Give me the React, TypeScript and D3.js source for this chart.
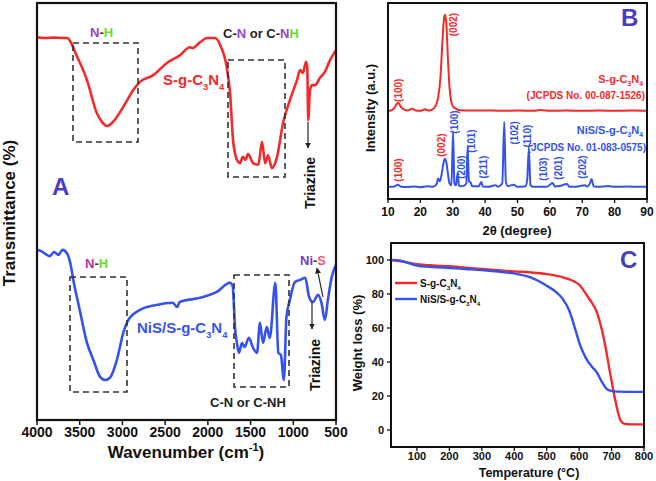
import React from 'react';
import * as d3 from 'd3';

// ---------- Panel A: FTIR ----------
const ftirTicks = [4000, 3500, 3000, 2500, 2000, 1500, 1000, 500];
const ftirRedWn = [4000, 3900, 3800, 3700, 3650, 3530, 3415, 3300, 3240, 3180, 3110, 2990, 2875, 2795, 2640, 2480, 2325, 2210, 2180, 2090, 2010, 1915, 1855, 1780, 1740, 1705, 1660, 1625, 1590, 1560, 1530, 1470, 1410, 1365, 1330, 1295, 1250, 1190, 1120, 1040, 957, 920, 890, 850, 836, 825, 805, 780, 745, 690, 630, 570, 500];
const ftirRedT = [91.8, 91.6, 91.7, 91.6, 91.6, 87.1, 81.5, 73.6, 71.5, 70.5, 71.5, 75.1, 79.1, 81.1, 82.7, 85.6, 87.5, 89.4, 89.2, 90.6, 91.6, 91.6, 89.9, 84.7, 78.4, 67.1, 62.4, 61.6, 63.1, 62.4, 63.8, 61.6, 61.2, 66.7, 61.6, 63.5, 60.4, 63.1, 71.2, 76.7, 81.5, 83.9, 83.2, 85.9, 84.5, 71.9, 79.1, 80.3, 80.3, 82.0, 83.5, 86.3, 88.7];
const ftirBlueWn = [4000, 3950, 3900, 3850, 3800, 3750, 3700, 3650, 3610, 3575, 3500, 3415, 3340, 3260, 3200, 3140, 3065, 2990, 2930, 2795, 2600, 2410, 2360, 2330, 2090, 1895, 1740, 1710, 1680, 1660, 1635, 1600, 1570, 1520, 1470, 1425, 1390, 1355, 1310, 1275, 1210, 1175, 1145, 1110, 1080, 1040, 980, 920, 860, 815, 770, 710, 670, 630, 595, 550, 500];
const ftirBlueT = [40.8, 40.5, 39.8, 39.3, 40.3, 39.6, 40.8, 40.0, 37.6, 33.6, 26.4, 18.5, 14.4, 10.3, 9.6, 10.3, 14.4, 20.9, 24.0, 26.4, 27.6, 28.1, 27.1, 28.3, 29.3, 30.7, 32.9, 32.1, 21.6, 18.5, 16.1, 18.5, 17.5, 19.7, 17.3, 16.1, 23.3, 18.5, 22.3, 19.7, 32.9, 16.1, 15.6, 9.6, 24.7, 28.8, 33.1, 33.6, 34.1, 29.5, 28.3, 30.0, 28.1, 24.0, 28.8, 34.3, 37.2];

// ---------- Panel B: XRD ----------
const xrdTicks = [10, 20, 30, 40, 50, 60, 70, 80, 90];
const xrdRed2t = [10, 11, 12, 12.5, 13, 13.5, 14, 15, 16, 17.5, 18.5, 20, 21.5, 22.5, 23.5, 24.5, 25.5, 26.2, 26.8, 27.3, 27.6, 28, 28.5, 29, 29.5, 30, 31, 32, 35, 40, 45, 50, 55, 57, 60, 65, 70, 75, 80, 85, 90];
const xrdRedI = [44.9, 45.2, 46.5, 48, 49, 48.5, 47, 45.6, 45.2, 46, 45.2, 45, 45.8, 45.1, 45.5, 47, 52, 62, 80, 92, 94, 90, 72, 57, 50, 47.5, 46, 45.3, 45.1, 45.2, 45, 45.1, 45, 45.4, 45, 45.1, 45, 45.1, 45, 45.1, 45];
const xrdBlue2t = [10, 12, 13, 14, 16, 18, 20, 22, 24, 25, 25.5, 26, 26.5, 27, 27.5, 28, 28.5, 29, 29.6, 30.1, 30.5, 31, 31.5, 31.9, 32.5, 33.5, 34.2, 34.6, 35, 35.5, 36, 38, 38.8, 39.3, 41, 43.2, 44, 45.3, 45.9, 46.4, 47, 48.8, 50, 52.5, 53, 53.5, 54, 55, 57, 59, 60.9, 61.5, 63, 65.3, 66, 68, 70.8, 71.5, 72.4, 72.9, 73.5, 75, 78, 80, 84, 87, 90];
const xrdBlueI = [6.2, 6.4, 7.3, 6.3, 6.1, 6.4, 6.0, 6.5, 6.3, 7.5, 10.5, 9, 12, 17, 20.5, 19, 13, 8, 7, 34.7, 8, 7, 13.3, 7, 6.5, 6.8, 8, 27, 9, 8.5, 6.5, 6.5, 8.7, 6.4, 6.2, 7, 6.3, 8, 39.3, 9, 6.6, 7.3, 6.2, 6.5, 10, 25.5, 7, 6.2, 6.3, 6.2, 8.2, 6.4, 6.6, 7.7, 6.3, 6.2, 7, 6.4, 8, 10.2, 6.5, 6.2, 6.6, 6.2, 6.4, 6.2, 6.3];
// peak labels
const xrdLabelText = ['(100)', '(002)', '(100)', '(002)', '(100)', '(200)', '(101)', '(211)', '(102)', '(110)', '(103)', '(201)', '(202)'];
const xrdLabel2t = [13.1, 30.1, 13.1, 26.3, 30.4, 32.5, 35.6, 39.3, 48.8, 52.8, 57.9, 62.6, 69.9];
const xrdLabelI = [55.5, 89, 14.8, 27.5, 39.3, 16.3, 29.6, 16.3, 33.7, 32.1, 15.3, 15.8, 16.3];
const xrdLabelRed = [true, true, true, true, false, false, false, false, false, false, false, false, false];

// ---------- Panel C: TGA ----------
const tgaTicksX = [100, 200, 300, 400, 500, 600, 700, 800];
const tgaTicksY = [0, 20, 40, 60, 80, 100];
const tgaRedT = [20, 50, 100, 150, 200, 250, 300, 350, 400, 450, 500, 550, 600, 614, 630, 655, 676, 696, 712, 728, 740, 760, 800];
const tgaRedW = [100, 99.3, 97.6, 96.8, 96.3, 95.5, 94.7, 94.0, 93.3, 92.7, 91.7, 89.8, 85.5, 82.0, 77.5, 69.0, 54.0, 33.0, 17.0, 5.5, 3.6, 3.3, 3.3];
const tgaBlueT = [20, 40, 60, 100, 150, 200, 250, 300, 350, 400, 450, 500, 530, 550, 570, 590, 600, 620, 640, 655, 671, 686, 700, 720, 800];
const tgaBlueW = [100, 99.9, 99.0, 96.7, 95.8, 95.3, 94.7, 94.1, 93.2, 92.1, 89.8, 84.9, 81.0, 77.0, 70.0, 58.0, 51.5, 42.6, 37.1, 33.8, 28.0, 24.0, 23.0, 22.6, 22.4];

const RED = '#f42a2a';
const BLUE = '#3552ee';
const LETTER = '#4a3bc9';
const PURPLE = '#9a45c8';
const GREEN = '#66dd2a';
const FONT = '"Liberation Sans", Arial, sans-serif';

function Formula({ parts, x, y, fill, size, anchor = 'start' }: any) {
  const out: any[] = [];
  parts.forEach((p: [string, boolean], i: number) => {
    const prevSub = i > 0 && parts[i - 1][1];
    const dy = p[1] ? size * 0.3 : prevSub ? -size * 0.3 : 0;
    out.push(
      <tspan key={i} dy={dy} fontSize={p[1] ? size * 0.62 : size}>{p[0]}</tspan>
    );
  });
  return (
    <text x={x} y={y} fill={fill} fontSize={size} fontWeight="bold" textAnchor={anchor} fontFamily={FONT}>{out}</text>
  );
}

const SGCN: [string, boolean][] = [['S-g-C', false], ['3', true], ['N', false], ['4', true]];
const NISGCN: [string, boolean][] = [['NiS/S-g-C', false], ['3', true], ['N', false], ['4', true]];

export default function App() {
  // Panel A
  const xA = d3.scaleLinear().domain([4000, 500]).range([37, 336]);
  const yA = d3.scaleLinear().domain([0, 100]).range([420, 3]);
  const lineA = d3.line<number>().curve(d3.curveMonotoneX);
  const redA = lineA(ftirRedWn.map((w, i) => [xA(w), yA(ftirRedT[i])]) as any);
  const blueA = lineA(ftirBlueWn.map((w, i) => [xA(w), yA(ftirBlueT[i])]) as any);

  // Panel B
  const xB = d3.scaleLinear().domain([10, 90]).range([388, 647]);
  const yB = d3.scaleLinear().domain([0, 100]).range([199, 3]);
  const lineB = d3.line<number>().curve(d3.curveMonotoneX);
  const redB = lineB(xrdRed2t.map((t, i) => [xB(t), yB(xrdRedI[i])]) as any);
  const blueB = lineB(xrdBlue2t.map((t, i) => [xB(t), yB(xrdBlueI[i])]) as any);

  // Panel C
  const xC = d3.scaleLinear().domain([20, 800]).range([391, 644]);
  const yC = d3.scaleLinear().domain([-10, 110]).range([447, 243]);
  const lineC = d3.line<number>().curve(d3.curveMonotoneX);
  const redC = lineC(tgaRedT.map((t, i) => [xC(t), yC(tgaRedW[i])]) as any);
  const blueC = lineC(tgaBlueT.map((t, i) => [xC(t), yC(tgaBlueW[i])]) as any);

  const dash = { fill: 'none', stroke: '#333', strokeWidth: 1.6, strokeDasharray: '6,4' };

  return (
    <svg width={656} height={481} style={{ position: 'absolute', left: 0, top: 0, background: '#fff' }} fontFamily={FONT}>
      <defs>
        <marker id="arr" viewBox="0 0 10 10" refX="9" refY="5" markerWidth="5" markerHeight="5" orient="auto">
          <path d="M0,0 L10,5 L0,10 z" fill="#222" />
        </marker>
      </defs>
      <rect x={0} y={0} width={656} height={481} fill="#fff" />

      {/* ===== Panel A ===== */}
      <path d={redA || ''} fill="none" stroke={RED} strokeWidth={2.6} strokeLinejoin="round" />
      <path d={blueA || ''} fill="none" stroke={BLUE} strokeWidth={2.6} strokeLinejoin="round" />
      <rect x={37} y={3} width={299} height={417} fill="none" stroke="#111" strokeWidth={2.2} />
      {ftirTicks.map((t) => (
        <g key={t}>
          <line x1={xA(t)} x2={xA(t)} y1={420} y2={425} stroke="#111" strokeWidth={1.5} />
          <text x={xA(t)} y={437} textAnchor="middle" fontSize={14} fontWeight="bold" fill="#111">{t}</text>
        </g>
      ))}
      <text x={186} y={458} textAnchor="middle" fontSize={17} fontWeight="bold" fill="#111">
        Wavenumber (cm<tspan dy={-7} fontSize={11}>-1</tspan><tspan dy={7}>)</tspan>
      </text>
      <text transform="translate(15,213) rotate(-90)" textAnchor="middle" fontSize={17} fontWeight="bold" fill="#111">Transmittance (%)</text>
      <text x={52} y={195} fontSize={24} fontWeight="bold" fill={LETTER}>A</text>

      {/* top labels */}
      <rect x={73} y={43} width={65} height={99} {...dash} />
      <rect x={228} y={60} width={57} height={117} {...dash} />
      <text x={90} y={37} fontSize={13} fontWeight="bold">
        <tspan fill={PURPLE}>N</tspan><tspan fill="#333">-</tspan><tspan fill={GREEN}>H</tspan>
      </text>
      <text x={223} y={38} fontSize={13} fontWeight="bold" fill="#222">
        C-<tspan fill={PURPLE}>N</tspan> or C-<tspan fill={PURPLE}>N</tspan><tspan fill={GREEN}>H</tspan>
      </text>
      <Formula parts={SGCN} x={163} y={85} fill={RED} size={15} />
      <line x1={308} y1={122} x2={308} y2={148} stroke="#222" strokeWidth={1.2} markerEnd="url(#arr)" />
      <text transform="translate(315,183) rotate(-90)" textAnchor="middle" fontSize={14} fontWeight="bold" fill="#111">Triazine</text>

      {/* bottom labels */}
      <rect x={70} y={277} width={57} height={115} {...dash} />
      <rect x={234} y={275} width={55} height={112} {...dash} />
      <text x={85} y={268} fontSize={13} fontWeight="bold">
        <tspan fill="#b0399c">N</tspan><tspan fill="#333">-</tspan><tspan fill={GREEN}>H</tspan>
      </text>
      <text x={210} y={407} fontSize={13} fontWeight="bold" fill="#222">C-N or C-NH</text>
      <Formula parts={NISGCN} x={137} y={333} fill={BLUE} size={15} />
      <text x={300} y={265} fontSize={13} fontWeight="bold">
        <tspan fill="#7040c8">Ni</tspan><tspan fill="#333">-</tspan><tspan fill="#ff5577">S</tspan>
      </text>
      <line x1={323} y1={297} x2={317} y2={268} stroke="#222" strokeWidth={1.2} markerEnd="url(#arr)" />
      <line x1={312} y1={302} x2={312} y2={329} stroke="#222" strokeWidth={1.2} markerEnd="url(#arr)" />
      <text transform="translate(320,365) rotate(-90)" textAnchor="middle" fontSize={14} fontWeight="bold" fill="#111">Triazine</text>

      {/* ===== Panel B ===== */}
      <path d={redB || ''} fill="none" stroke={RED} strokeWidth={2} strokeLinejoin="round" />
      <path d={blueB || ''} fill="none" stroke={BLUE} strokeWidth={2} strokeLinejoin="round" />
      <rect x={388} y={3} width={259} height={196} fill="none" stroke="#111" strokeWidth={2} />
      {xrdTicks.map((t) => (
        <g key={t}>
          <line x1={xB(t)} x2={xB(t)} y1={199} y2={203} stroke="#111" strokeWidth={1.3} />
          <text x={xB(t)} y={216} textAnchor="middle" fontSize={12} fontWeight="bold" fill="#111">{t}</text>
        </g>
      ))}
      <text x={517} y={235} textAnchor="middle" fontSize={13} fontWeight="bold" fill="#111">2θ (degree)</text>
      <text transform="translate(375,108) rotate(-90)" textAnchor="middle" fontSize={13} fontWeight="bold" fill="#111">Intensity (a.u.)</text>
      <text x={621} y={26} fontSize={24} fontWeight="bold" fill={LETTER}>B</text>
      {xrdLabelText.map((s, i) => (
        <text key={i} transform={`translate(${xB(xrdLabel2t[i]) + 4},${yB(xrdLabelI[i])}) rotate(-90)`} textAnchor="middle" fontSize={10} fontWeight="bold" fill={xrdLabelRed[i] ? RED : BLUE}>{s}</text>
      ))}
      <Formula parts={SGCN} x={643} y={83} fill={RED} size={11} anchor="end" />
      <text x={645} y={99} textAnchor="end" fontSize={10} fontWeight="bold" fill={RED}>(JCPDS No. 00-087-1526)</text>
      <Formula parts={NISGCN} x={643} y={134} fill={BLUE} size={11} anchor="end" />
      <text x={646} y={151} textAnchor="end" fontSize={10} fontWeight="bold" fill={BLUE}>(JCPDS No. 01-083-0575)</text>

      {/* ===== Panel C ===== */}
      <path d={redC || ''} fill="none" stroke={RED} strokeWidth={2.4} />
      <path d={blueC || ''} fill="none" stroke={BLUE} strokeWidth={2.4} />
      <rect x={391} y={243} width={253} height={204} fill="none" stroke="#111" strokeWidth={2} />
      {tgaTicksX.map((t) => (
        <g key={t}>
          <line x1={xC(t)} x2={xC(t)} y1={447} y2={451} stroke="#111" strokeWidth={1.3} />
          <text x={xC(t)} y={460} textAnchor="middle" fontSize={11} fontWeight="bold" fill="#111">{t}</text>
        </g>
      ))}
      {tgaTicksY.map((t) => (
        <g key={t}>
          <line x1={387} x2={391} y1={yC(t)} y2={yC(t)} stroke="#111" strokeWidth={1.3} />
          <text x={384} y={yC(t) + 4} textAnchor="end" fontSize={11} fontWeight="bold" fill="#111">{t}</text>
        </g>
      ))}
      <text x={529} y={477} textAnchor="middle" fontSize={12.5} fontWeight="bold" fill="#111">Temperature (°C)</text>
      <text transform="translate(362,343) rotate(-90)" textAnchor="middle" fontSize={13} fontWeight="bold" fill="#111">Weight loss (%)</text>
      <text x={620} y={268} fontSize={24} fontWeight="bold" fill={LETTER}>C</text>
      <line x1={395} x2={417} y1={283} y2={283} stroke={RED} strokeWidth={2.4} />
      <Formula parts={SGCN} x={420} y={287} fill="#111" size={10} />
      <line x1={395} x2={417} y1={299} y2={299} stroke={BLUE} strokeWidth={2.4} />
      <Formula parts={NISGCN} x={420} y={303} fill="#111" size={10} />
    </svg>
  );
}
